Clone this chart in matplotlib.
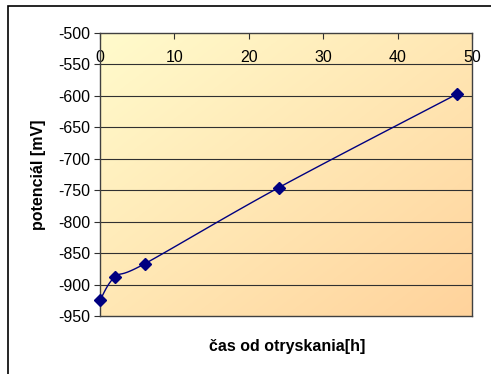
import numpy as np
import matplotlib
matplotlib.use('Agg')
import matplotlib.pyplot as plt
from matplotlib.patches import Rectangle

# data
hours = [0, 2, 6, 24, 48]
potential_mv = [-925, -888, -867, -746, -597]

x_ticks = [0, 10, 20, 30, 40, 50]
y_ticks = [-500, -550, -600, -650, -700, -750, -800, -850, -900, -950]

plt.rcParams['font.family'] = ['Liberation Sans', 'DejaVu Sans']


def smooth_line(xs, ys, steps=30):
    """Catmull-Rom curve through the points (like Excel's smoothed line)"""
    pts = np.column_stack([xs, ys]).astype(float)
    pts = np.vstack([pts[0], pts, pts[-1]])
    out = []
    for i in range(1, len(pts) - 2):
        p0, p1, p2, p3 = pts[i - 1], pts[i], pts[i + 1], pts[i + 2]
        for t in np.linspace(0, 1, steps, endpoint=False):
            t2, t3 = t * t, t * t * t
            out.append(0.5 * ((2 * p1) + (-p0 + p2) * t
                              + (2 * p0 - 5 * p1 + 4 * p2 - p3) * t2
                              + (-p0 + 3 * p1 - 3 * p2 + p3) * t3))
    out.append(pts[-2])
    out = np.array(out)
    return out[:, 0], out[:, 1]


fig = plt.figure(figsize=(4.91, 3.74), dpi=100)
fig.patch.set_facecolor('white')

# outer chart frame
fig.add_artist(Rectangle((8 / 491, -0.1), 1.2, 1.1 - 6 / 374, transform=fig.transFigure,
                         fill=False, edgecolor='black', linewidth=1.2))

ax = fig.add_axes([100 / 491, 1 - 316 / 374, 372 / 491, 283 / 374])

# diagonal gradient background
gx, gy = np.meshgrid(np.linspace(0, 1, 200), np.linspace(1, 0, 200))
grad = (gx + (1 - gy)) / 2
c1 = np.array([255, 251, 204]) / 255
c2 = np.array([255, 211, 156]) / 255
img = c1 + (c2 - c1) * grad[..., None]
ax.imshow(img, extent=[0, 1, 0, 1], transform=ax.transAxes, aspect='auto', zorder=0)

for y in y_ticks[1:-1]:
    ax.axhline(y, color='#303030', linewidth=0.8, zorder=1)

sx, sy = smooth_line(hours, potential_mv)
ax.plot(sx, sy, color='#000080', linewidth=1.0, zorder=3)
ax.plot(hours, potential_mv, linestyle='none', marker='D', markersize=6,
        color='#000080', zorder=4, clip_on=False)

ax.set_xlim(0, 50)
ax.set_ylim(-950, -500)
ax.set_xticks(x_ticks)
ax.set_yticks(y_ticks)
ax.set_yticklabels([str(v) for v in y_ticks])

ax.xaxis.tick_top()
ax.tick_params(axis='x', direction='in', length=4, pad=-23, labelsize=11.5, color='#303030')
ax.tick_params(axis='y', direction='out', length=4, pad=3, labelsize=11.5, color='#303030')

for s in ax.spines.values():
    s.set_color('#404040')
    s.set_linewidth(1.0)

fig.text(39 / 491, 1 - 175 / 374, 'potenciál [mV]', rotation=90, ha='center', va='center',
         fontsize=11.5, fontweight='bold')
fig.text(287 / 491, 1 - 347 / 374, 'čas od otryskania[h]', ha='center', va='center',
         fontsize=11.5, fontweight='bold')

fig.savefig('out.png', dpi=100, facecolor='white')
